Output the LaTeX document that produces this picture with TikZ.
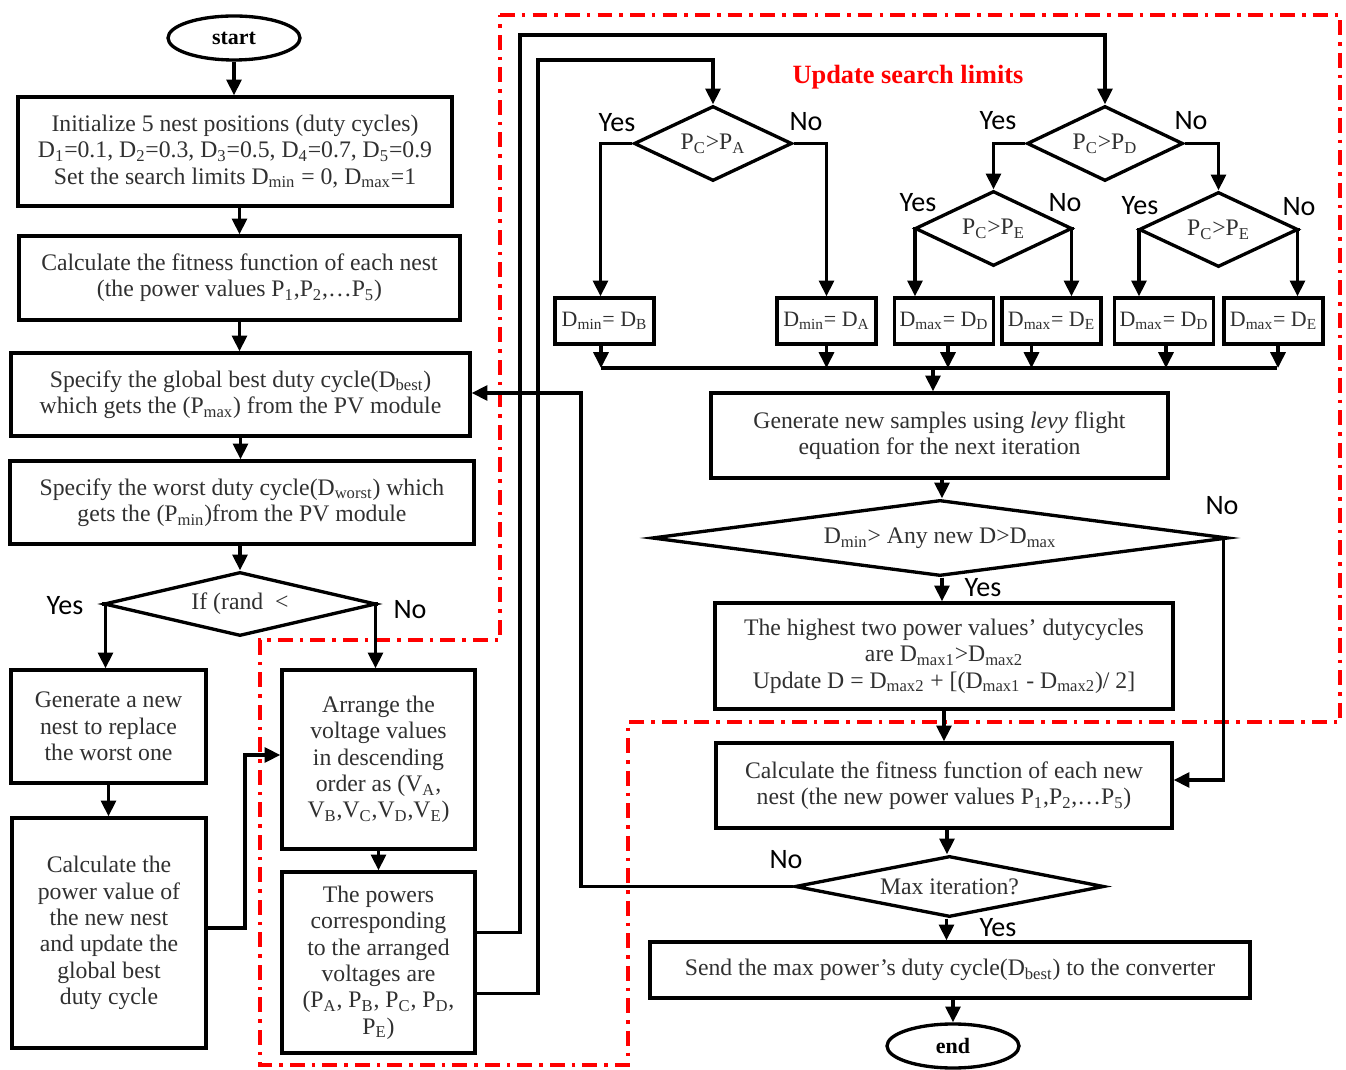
\documentclass[tikz,border=0pt]{standalone}
\usepackage{fontspec}
\setmainfont{Liberation Serif}
\newfontfamily\yesnofont{Carlito}
\usepackage{xcolor}
\usepackage{tikz}
\usetikzlibrary{arrows.meta,positioning,calc,shapes.geometric}
\newcommand{\sbt}[1]{\textsubscript{#1}}
\definecolor{zoneRed}{HTML}{FF0000}
\definecolor{txtGray}{HTML}{303030}
\tikzset{
  sz/.style 2 args = {minimum width={#1*0.02cm}, minimum height={#2*0.02cm}},
  procbox/.style = {rectangle, draw, line width=1.9pt, align=center, inner sep=2pt,
                    text=txtGray, font=\fontsize{13.5}{15}\selectfont},
  limbox/.style  = {rectangle, draw, line width=1.9pt, align=center, inner sep=1pt,
                    text=txtGray, font=\fontsize{12.5}{14}\selectfont, sz={99}{46}},
  decision/.style = {diamond, draw, line width=1.9pt, align=center, inner sep=0pt,
                     text=txtGray, font=\fontsize{13.5}{15}\selectfont},
  term/.style = {ellipse, draw, line width=1.9pt, inner sep=0pt,
                 font=\bfseries\fontsize{12.5}{14}\selectfont},
  flow/.style = {line width=1.9pt, -{Triangle[length=9pt,width=8.5pt]}},
  plain/.style = {line width=1.9pt},
  yn/.style = {font=\yesnofont\fontsize{16}{18}\selectfont},
  zone/.style = {draw=zoneRed, line width=1.9pt,
                 dash pattern=on 8.5pt off 4pt on 2pt off 4pt},
}

\begin{document}
\begin{tikzpicture}[x=0.02cm,y=-0.02cm]
  \useasboundingbox (0,0) rectangle (1346,1070);

  % === Red zone round the limit update ===
  \draw[zone] (500,15) -- (1340,15) -- (1340,722) -- (628,722) -- (628,1065)
    -- (260,1065) -- (260,640) -- (500,640) -- cycle;

  % === Main column ===
  \node[term, sz={132}{44}] (start) at (234,38) {start};

  \node[procbox, sz={434}{109}] (init) at (235,151.5)
    {Initialize 5 nest positions (duty cycles)\\
     D\sbt{1}=0.1, D\sbt{2}=0.3, D\sbt{3}=0.5, D\sbt{4}=0.7, D\sbt{5}=0.9\\
     Set the search limits D\sbt{min} = 0, D\sbt{max}=1};

  \node[procbox, sz={441}{84}] (fitness) at (239.5,278)
    {Calculate the fitness function of each nest\\
     (the power values P\sbt{1},P\sbt{2},\ldots P\sbt{5})};

  \node[procbox, sz={459}{83}] (best) at (240.5,394.5)
    {Specify the global best duty cycle(D\sbt{best})\\
     which gets the (P\sbt{max}) from the PV module};

  \node[procbox, sz={464}{83}] (worst) at (242,502.5)
    {Specify the worst duty cycle(D\sbt{worst}) which\\
     gets the (P\sbt{min})from the PV module};

  \node[decision, sz={272}{64}, aspect=4.25] (rand) at (240,604) {If (rand~~<};

  % Edges: main column
  \draw[flow] (start.south) -- (start.south |- init.north);
  \draw[flow] (init.south -| fitness.north) -- (fitness.north);
  \draw[flow] (fitness.south) -- (fitness.south |- best.north);
  \draw[flow] (best.south) -- (best.south |- worst.north);
  \draw[flow] (worst.south -| rand.north) -- (rand.north);

  % === Yes branch ===
  \node[procbox, sz={195}{113}] (gennest) at (108.5,726.5)
    {Generate a new\\ nest to replace\\ the worst one};
  \node[procbox, sz={194}{230}] (calcpow) at (109,933)
    {Calculate the\\ power value of\\ the new nest\\ and update the\\ global best\\ duty cycle};

  % === No branch ===
  \node[procbox, sz={193}{179}] (arrange) at (378.5,759.5)
    {Arrange the\\ voltage values\\ in descending\\ order as (V\sbt{A},\\ V\sbt{B},V\sbt{C},V\sbt{D},V\sbt{E})};
  \node[procbox, sz={193}{181}] (powers) at (378.5,962.5)
    {The powers\\ corresponding\\ to the arranged\\ voltages are\\ (P\sbt{A}, P\sbt{B}, P\sbt{C}, P\sbt{D},\\ P\sbt{E})};

  \node[yn] at (65,606) {Yes};
  \node[yn] at (410,610) {No};

  \draw[flow] (rand.west) -| ([xshift=-0.06cm]gennest.north);
  \draw[flow] (rand.east) -| ([xshift=-0.06cm]arrange.north);
  \draw[flow] (gennest.south) -- (gennest.south |- calcpow.north);
  \draw[flow] (arrange.south) -- (arrange.south |- powers.north);
  \coordinate (jogA) at (245,800);
  \draw[flow] ([yshift=0.1cm]calcpow.east) -| (jogA) |- ([yshift=0.09cm]arrange.west);

  % === Update search limits ===
  \node[font=\bfseries\fontsize{15}{17}\selectfont, text=zoneRed] (uptitle) at (908,77)
    {Update search limits};

  \node[decision, sz={158}{75}, aspect=2.1] (pa) at (713,143.5) {P\sbt{C}>P\sbt{A}};
  \node[decision, sz={156}{75}, aspect=2.1] (pd) at (1105,143.5) {P\sbt{C}>P\sbt{D}};
  \node[decision, sz={157}{75}, aspect=2.1] (peL) at (993.5,228.5) {P\sbt{C}>P\sbt{E}};
  \node[decision, sz={159}{75}, aspect=2.1] (peR) at (1218.5,229.5) {P\sbt{C}>P\sbt{E}};

  \node[limbox] (minB) at (604.5,321) {D\sbt{min}= D\sbt{B}};
  \node[limbox] (minA) at (826.5,321) {D\sbt{min}= D\sbt{A}};
  \node[limbox] (maxD1) at (944,321) {D\sbt{max}= D\sbt{D}};
  \node[limbox] (maxE1) at (1051.5,321) {D\sbt{max}= D\sbt{E}};
  \node[limbox] (maxD2) at (1164,321) {D\sbt{max}= D\sbt{D}};
  \node[limbox] (maxE2) at (1273.5,321) {D\sbt{max}= D\sbt{E}};

  \node[yn] at (617,123) {Yes};
  \node[yn] at (806,122) {No};
  \node[yn] at (998,121) {Yes};
  \node[yn] at (1191,121) {No};
  \node[yn] at (918,203) {Yes};
  \node[yn] at (1065,203) {No};
  \node[yn] at (1140,206) {Yes};
  \node[yn] at (1299,207) {No};

  % Edges: powers box up to the two first tests
  \coordinate (loopPD) at (520,35);
  \coordinate (loopPA) at (538,60);
  \draw[flow] ([yshift=0.6cm]powers.east) -| (loopPD) -| (pd.north);
  \draw[flow] ([yshift=-0.62cm]powers.east) -| (loopPA) -| (pa.north);

  % Edges: tests to limit boxes
  \draw[flow] (pa.west) -| ([xshift=-0.08cm]minB.north);
  \draw[flow] (pa.east) -| (minA.north);
  \draw[flow] (pd.west) -| (peL.north);
  \draw[flow] (pd.east) -| (peR.north);
  \draw[flow] (peL.west) -| ([xshift=-0.58cm]maxD1.north);
  \draw[flow] (peL.east) -| ([xshift=0.4cm]maxE1.north);
  \draw[flow] (peR.west) -| ([xshift=-0.5cm]maxD2.north);
  \draw[flow] (peR.east) -| ([xshift=0.48cm]maxE2.north);

  % Collecting bus
  \coordinate (busL) at (601,368);
  \coordinate (busR) at (1277,368);
  \draw[plain] (busL) -- (busR);
  \foreach \bx/\dx in {minB/-3.5, minA/0, maxD1/4, maxE1/-20, maxD2/2, maxE2/4.5} {
    \draw[flow] ([xshift=\dx*0.02cm]\bx.south) -- ([xshift=\dx*0.02cm]\bx.south |- busL);
  }

  % === Sampling and checks ===
  \node[procbox, sz={457}{85}] (gensamp) at (939.5,435.5)
    {Generate new samples using \textit{levy} flight\\ equation for the next iteration};
  \draw[flow] ([xshift=-0.13cm]gensamp.north |- busL) -- ([xshift=-0.13cm]gensamp.north);

  \node[decision, sz={576}{76}, aspect=7.6] (dchk) at (940,538)
    {D\sbt{min}> Any new D>D\sbt{max}};
  \draw[flow] ([xshift=0.05cm]gensamp.south) -- ([xshift=0.05cm]gensamp.south |- dchk.north);

  \node[procbox, sz={458}{106}] (highest) at (944,656)
    {The highest two power values' dutycycles\\
     are D\sbt{max1}>D\sbt{max2}\\
     Update D = D\sbt{max2} + [(D\sbt{max1} - D\sbt{max2})/ 2]};
  \draw[flow] ([xshift=0.04cm]dchk.south) -- ([xshift=0.04cm]dchk.south |- highest.north);
  \node[yn] at (983,588) {Yes};
  \node[yn] at (1222,506) {No};

  \node[procbox, sz={456}{85}] (calcnew) at (944,785.5)
    {Calculate the fitness function of each new\\
     nest (the new power values P\sbt{1},P\sbt{2},\ldots P\sbt{5})};
  \draw[flow] (highest.south) -- (highest.south |- calcnew.north);
  \draw[flow] ([xshift=-0.12cm]dchk.east) |- ([yshift=0.11cm]calcnew.east);

  \node[decision, sz={309}{61}, aspect=5] (maxit) at (949.5,886.5) {Max iteration?};
  \draw[flow] ([xshift=0.06cm]calcnew.south) -- ([xshift=0.06cm]calcnew.south |- maxit.north);
  \node[yn] at (786,860) {No};
  \coordinate (loopBest) at (581,600);
  \draw[flow] (maxit.west) -| (loopBest) |- ([yshift=0.03cm]best.east);

  % === End ===
  \node[procbox, sz={600}{56}] (send) at (950,970)
    {Send the max power's duty cycle(D\sbt{best}) to the converter};
  \draw[flow] ([xshift=-0.06cm]maxit.south) -- ([xshift=-0.06cm]maxit.south |- send.north);
  \node[yn] at (998,928) {Yes};

  \node[term, sz={132}{44}] (stop) at (953,1046) {end};
  \draw[flow] (send.south -| stop.north) -- (stop.north);

\end{tikzpicture}
\end{document}
